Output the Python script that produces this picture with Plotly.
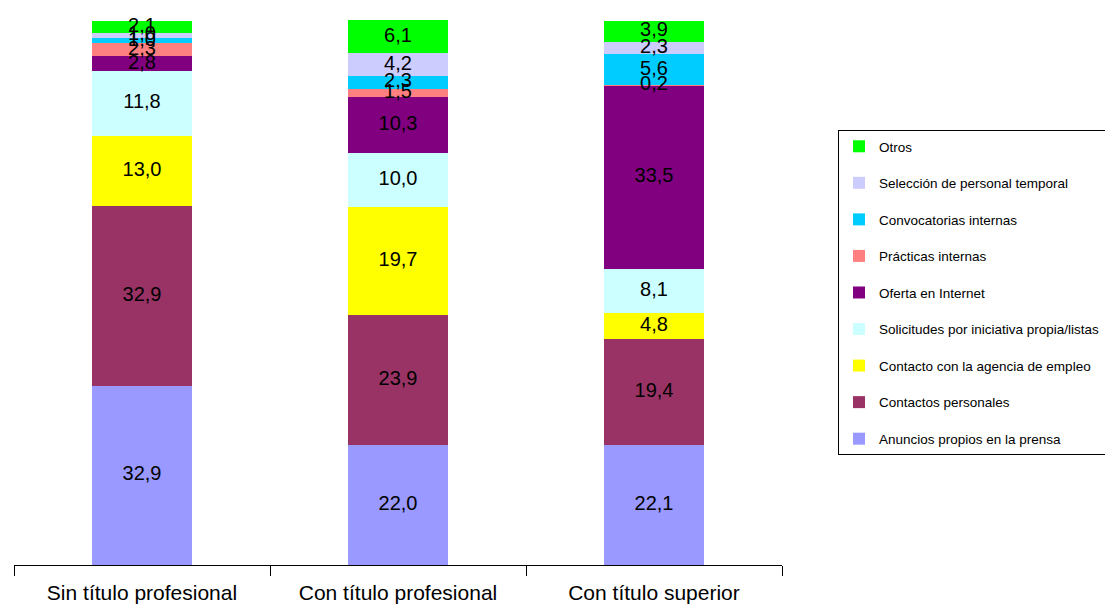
import plotly.graph_objects as go

categories = ["Sin título profesional", "Con título profesional", "Con título superior"]
series_names = [
    "Anuncios propios en la prensa",
    "Contactos personales",
    "Contacto con la agencia de empleo",
    "Solicitudes por iniciativa propia/listas",
    "Oferta en Internet",
    "Prácticas internas",
    "Convocatorias internas",
    "Selección de personal temporal",
    "Otros",
]
anuncios = [32.9, 22.0, 22.1]
contactos = [32.9, 23.9, 19.4]
agencia = [13.0, 19.7, 4.8]
solicitudes = [11.8, 10.0, 8.1]
oferta = [2.8, 10.3, 33.5]
practicas = [2.3, 1.5, 0.2]
convocatorias = [1.0, 2.3, 5.6]
seleccion = [1.0, 4.2, 2.3]
otros = [2.1, 6.1, 3.9]
series_values = [anuncios, contactos, agencia, solicitudes, oferta,
                 practicas, convocatorias, seleccion, otros]
colors = ["#9999FF", "#993366", "#FFFF00", "#CCFFFF", "#800080",
          "#FF8080", "#00CCFF", "#CCCCFF", "#00FF00"]

FONT = "Liberation Sans, Arial, sans-serif"
fig = go.Figure()
n = len(series_names)
for i, (name, vals, col) in enumerate(zip(series_names, series_values, colors)):
    fig.add_trace(go.Bar(
        x=categories, y=vals, name=name, marker=dict(color=col, line=dict(width=0)),
        legendgroup=f"g{i}", legendrank=n - i, hoverinfo="skip",
    ))

# labels at segment centers
lx, ly, lt = [], [], []
for ci, cat in enumerate(categories):
    base = 0.0
    for vals in series_values:
        v = vals[ci]
        lx.append(cat)
        ly.append(base + v / 2)
        lt.append(f"{v:.1f}".replace(".", ","))
        base += v
fig.add_trace(go.Scatter(
    x=lx, y=ly, text=lt, mode="text", showlegend=False, hoverinfo="skip",
    textfont=dict(family=FONT, size=20, color="black"), cliponaxis=False,
))

fig.update_layout(
    barmode="stack",
    bargap=0.613,
    width=1105, height=604,
    margin=dict(l=14, r=323, t=20, b=39, autoexpand=False),
    paper_bgcolor="white", plot_bgcolor="white",
    font=dict(family=FONT, color="black"),
    showlegend=True,
    legend=dict(
        traceorder="grouped",
        tracegroupgap=16,
        x=1.0 + (838 - 782) / 768, xanchor="left",
        y=0.5, yanchor="middle",
        bordercolor="black", borderwidth=1,
        font=dict(family=FONT, size=13.5, color="black"),
        itemwidth=30,
    ),
)
fig.update_xaxes(
    type="category", tickson="boundaries", ticks="outside", ticklen=10,
    tickcolor="black", showline=True, linecolor="black", linewidth=1,
    showgrid=False, tickfont=dict(family=FONT, size=21, color="black"),
    ticklabelstandoff=9,
    range=[-0.5, 2.5],
)
fig.update_yaxes(range=[0, 100], visible=False, showgrid=False)

fig.write_html("out.html")
